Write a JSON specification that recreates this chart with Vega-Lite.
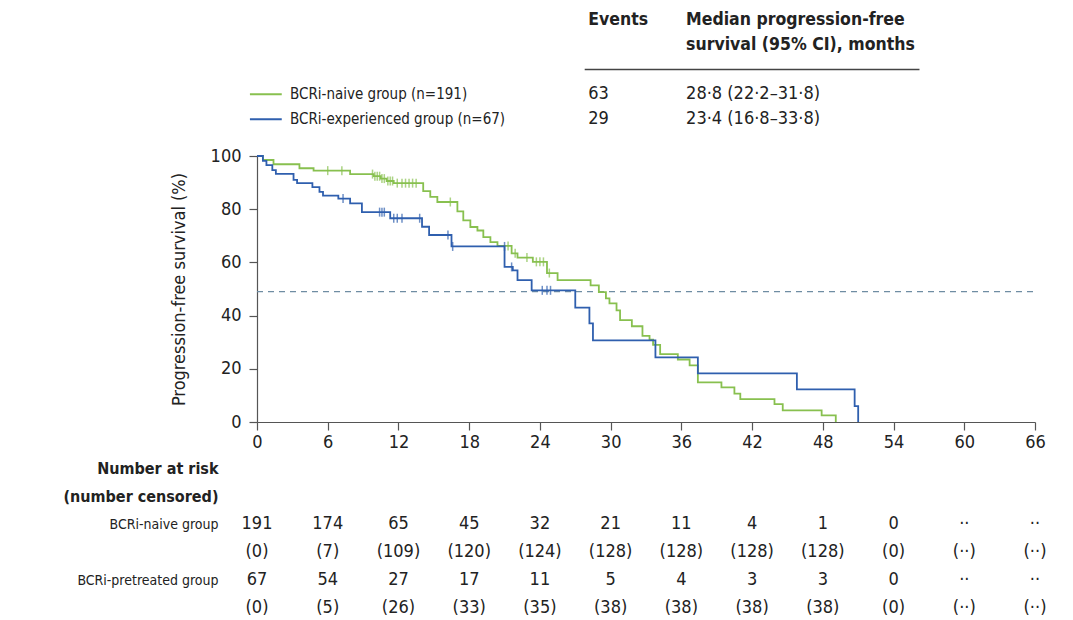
{
  "$schema": "https://vega.github.io/schema/vega-lite/v6.json",
  "padding": {"left": 62, "top": 11, "right": 5, "bottom": 5},
  "spacing": 9,
  "config": {
    "font": "DejaVu Sans Condensed, Open Sans, sans-serif",
    "view": {"stroke": null},
    "text": {"fontSize": 16, "color": "#222"},
    "axis": {"labelFontSize": 18, "labelColor": "#222", "titleFontSize": 18, "titleColor": "#222", "titleFontWeight": "normal", "grid": false, "domainColor": "#555", "tickColor": "#555", "domainWidth": 1.2, "tickWidth": 1.2}
  },
  "datasets": {
    "curves": [
      {"group": "naive", "month": 0, "pfs": 100}, {"group": "naive", "month": 0.5, "pfs": 98.5}, {"group": "naive", "month": 1.4, "pfs": 96.9}, {"group": "naive", "month": 3.6, "pfs": 95.4}, {"group": "naive", "month": 4.8, "pfs": 94.5}, {"group": "naive", "month": 7.9, "pfs": 93.2}, {"group": "naive", "month": 9.9, "pfs": 92.4}, {"group": "naive", "month": 10.5, "pfs": 91.5}, {"group": "naive", "month": 11.0, "pfs": 90.6}, {"group": "naive", "month": 11.6, "pfs": 89.8}, {"group": "naive", "month": 14.1, "pfs": 86.8}, {"group": "naive", "month": 14.7, "pfs": 84.6}, {"group": "naive", "month": 15.3, "pfs": 82.7}, {"group": "naive", "month": 17.0, "pfs": 79.2}, {"group": "naive", "month": 17.5, "pfs": 75.8}, {"group": "naive", "month": 18.1, "pfs": 73.3}, {"group": "naive", "month": 18.7, "pfs": 72.0}, {"group": "naive", "month": 19.2, "pfs": 69.5}, {"group": "naive", "month": 19.8, "pfs": 67.6}, {"group": "naive", "month": 20.4, "pfs": 66.2}, {"group": "naive", "month": 21.6, "pfs": 63.4}, {"group": "naive", "month": 22.1, "pfs": 61.8}, {"group": "naive", "month": 23.4, "pfs": 60.2}, {"group": "naive", "month": 24.6, "pfs": 56.0}, {"group": "naive", "month": 25.5, "pfs": 53.3}, {"group": "naive", "month": 28.3, "pfs": 51.4}, {"group": "naive", "month": 29.0, "pfs": 48.8}, {"group": "naive", "month": 29.6, "pfs": 46.5}, {"group": "naive", "month": 29.9, "pfs": 44.6}, {"group": "naive", "month": 30.5, "pfs": 42.0}, {"group": "naive", "month": 30.8, "pfs": 38.3}, {"group": "naive", "month": 31.8, "pfs": 36.0}, {"group": "naive", "month": 32.7, "pfs": 32.4}, {"group": "naive", "month": 33.3, "pfs": 31.0}, {"group": "naive", "month": 33.6, "pfs": 29.0}, {"group": "naive", "month": 34.2, "pfs": 25.5}, {"group": "naive", "month": 35.7, "pfs": 23.5}, {"group": "naive", "month": 36.7, "pfs": 21.3}, {"group": "naive", "month": 37.4, "pfs": 14.9}, {"group": "naive", "month": 39.4, "pfs": 13.0}, {"group": "naive", "month": 40.5, "pfs": 10.7}, {"group": "naive", "month": 41.0, "pfs": 8.6}, {"group": "naive", "month": 43.9, "pfs": 6.7}, {"group": "naive", "month": 44.6, "pfs": 4.4}, {"group": "naive", "month": 47.9, "pfs": 2.5}, {"group": "naive", "month": 49.1, "pfs": 0},
      {"group": "experienced", "month": 0, "pfs": 100}, {"group": "experienced", "month": 0.5, "pfs": 98.2}, {"group": "experienced", "month": 0.8, "pfs": 96.6}, {"group": "experienced", "month": 1.3, "pfs": 94.7}, {"group": "experienced", "month": 1.6, "pfs": 93.3}, {"group": "experienced", "month": 3.1, "pfs": 91.0}, {"group": "experienced", "month": 3.4, "pfs": 89.8}, {"group": "experienced", "month": 4.7, "pfs": 88.3}, {"group": "experienced", "month": 5.3, "pfs": 86.5}, {"group": "experienced", "month": 5.6, "pfs": 85.1}, {"group": "experienced", "month": 6.9, "pfs": 84.0}, {"group": "experienced", "month": 7.9, "pfs": 82.2}, {"group": "experienced", "month": 8.9, "pfs": 78.9}, {"group": "experienced", "month": 11.3, "pfs": 76.6}, {"group": "experienced", "month": 14.0, "pfs": 73.4}, {"group": "experienced", "month": 14.6, "pfs": 70.3}, {"group": "experienced", "month": 16.5, "pfs": 66.0}, {"group": "experienced", "month": 21.0, "pfs": 58.3}, {"group": "experienced", "month": 21.7, "pfs": 57.0}, {"group": "experienced", "month": 22.1, "pfs": 53.3}, {"group": "experienced", "month": 23.3, "pfs": 49.5}, {"group": "experienced", "month": 27.0, "pfs": 43.0}, {"group": "experienced", "month": 28.2, "pfs": 37.1}, {"group": "experienced", "month": 28.5, "pfs": 30.7}, {"group": "experienced", "month": 33.8, "pfs": 24.3}, {"group": "experienced", "month": 37.4, "pfs": 18.3}, {"group": "experienced", "month": 45.8, "pfs": 12.3}, {"group": "experienced", "month": 50.7, "pfs": 6.0}, {"group": "experienced", "month": 51.0, "pfs": 0}
    ],
    "censors": [
      {"group": "naive", "month": 6.0, "pfs": 94.5}, {"group": "naive", "month": 7.2, "pfs": 94.5}, {"group": "naive", "month": 9.8, "pfs": 93.2}, {"group": "naive", "month": 10.0, "pfs": 92.4}, {"group": "naive", "month": 10.2, "pfs": 92.4}, {"group": "naive", "month": 10.4, "pfs": 92.4}, {"group": "naive", "month": 10.6, "pfs": 91.5}, {"group": "naive", "month": 10.8, "pfs": 91.5}, {"group": "naive", "month": 11.1, "pfs": 90.6}, {"group": "naive", "month": 11.3, "pfs": 90.6}, {"group": "naive", "month": 11.5, "pfs": 90.6}, {"group": "naive", "month": 11.9, "pfs": 89.8}, {"group": "naive", "month": 12.3, "pfs": 89.8}, {"group": "naive", "month": 12.6, "pfs": 89.8}, {"group": "naive", "month": 12.9, "pfs": 89.8}, {"group": "naive", "month": 13.2, "pfs": 89.8}, {"group": "naive", "month": 13.5, "pfs": 89.8}, {"group": "naive", "month": 16.4, "pfs": 82.7}, {"group": "naive", "month": 21.3, "pfs": 66.2}, {"group": "naive", "month": 21.9, "pfs": 63.4}, {"group": "naive", "month": 22.9, "pfs": 61.8}, {"group": "naive", "month": 23.7, "pfs": 60.2}, {"group": "naive", "month": 24.0, "pfs": 60.2}, {"group": "naive", "month": 24.3, "pfs": 60.2}, {"group": "naive", "month": 24.8, "pfs": 56.0},
      {"group": "experienced", "month": 7.3, "pfs": 84.0}, {"group": "experienced", "month": 10.4, "pfs": 78.9}, {"group": "experienced", "month": 10.6, "pfs": 78.9}, {"group": "experienced", "month": 10.8, "pfs": 78.9}, {"group": "experienced", "month": 11.6, "pfs": 76.6}, {"group": "experienced", "month": 11.9, "pfs": 76.6}, {"group": "experienced", "month": 12.3, "pfs": 76.6}, {"group": "experienced", "month": 13.8, "pfs": 76.6}, {"group": "experienced", "month": 16.2, "pfs": 70.3}, {"group": "experienced", "month": 16.6, "pfs": 66.0}, {"group": "experienced", "month": 21.0, "pfs": 66.0}, {"group": "experienced", "month": 21.6, "pfs": 58.3}, {"group": "experienced", "month": 24.2, "pfs": 49.5}, {"group": "experienced", "month": 24.6, "pfs": 49.5}, {"group": "experienced", "month": 24.9, "pfs": 49.5}
    ],
    "median": [{"pfs": 49, "from": 0, "to": 66}],
    "headings": [
      {"key": "title1", "events": "Events", "median": "Median progression-free"},
      {"key": "title2", "events": "", "median": "survival (95% CI), months"}
    ],
    "groups": [
      {"key": "naive", "group": "naive", "label": "BCRi-naive group (n=191)", "events": "63", "median": "28·8 (22·2–31·8)"},
      {"key": "experienced", "group": "experienced", "label": "BCRi-experienced group (n=67)", "events": "29", "median": "23·4 (16·8–33·8)"}
    ],
    "risk": [
      {"row": "BCRi-naive group", "month": 0, "text": "191"}, {"row": "BCRi-naive group", "month": 6, "text": "174"}, {"row": "BCRi-naive group", "month": 12, "text": "65"}, {"row": "BCRi-naive group", "month": 18, "text": "45"}, {"row": "BCRi-naive group", "month": 24, "text": "32"}, {"row": "BCRi-naive group", "month": 30, "text": "21"}, {"row": "BCRi-naive group", "month": 36, "text": "11"}, {"row": "BCRi-naive group", "month": 42, "text": "4"}, {"row": "BCRi-naive group", "month": 48, "text": "1"}, {"row": "BCRi-naive group", "month": 54, "text": "0"}, {"row": "BCRi-naive group", "month": 60, "text": "··"}, {"row": "BCRi-naive group", "month": 66, "text": "··"},
      {"row": "BCRi-naive group censored", "month": 0, "text": "(0)"}, {"row": "BCRi-naive group censored", "month": 6, "text": "(7)"}, {"row": "BCRi-naive group censored", "month": 12, "text": "(109)"}, {"row": "BCRi-naive group censored", "month": 18, "text": "(120)"}, {"row": "BCRi-naive group censored", "month": 24, "text": "(124)"}, {"row": "BCRi-naive group censored", "month": 30, "text": "(128)"}, {"row": "BCRi-naive group censored", "month": 36, "text": "(128)"}, {"row": "BCRi-naive group censored", "month": 42, "text": "(128)"}, {"row": "BCRi-naive group censored", "month": 48, "text": "(128)"}, {"row": "BCRi-naive group censored", "month": 54, "text": "(0)"}, {"row": "BCRi-naive group censored", "month": 60, "text": "(··)"}, {"row": "BCRi-naive group censored", "month": 66, "text": "(··)"},
      {"row": "BCRi-pretreated group", "month": 0, "text": "67"}, {"row": "BCRi-pretreated group", "month": 6, "text": "54"}, {"row": "BCRi-pretreated group", "month": 12, "text": "27"}, {"row": "BCRi-pretreated group", "month": 18, "text": "17"}, {"row": "BCRi-pretreated group", "month": 24, "text": "11"}, {"row": "BCRi-pretreated group", "month": 30, "text": "5"}, {"row": "BCRi-pretreated group", "month": 36, "text": "4"}, {"row": "BCRi-pretreated group", "month": 42, "text": "3"}, {"row": "BCRi-pretreated group", "month": 48, "text": "3"}, {"row": "BCRi-pretreated group", "month": 54, "text": "0"}, {"row": "BCRi-pretreated group", "month": 60, "text": "··"}, {"row": "BCRi-pretreated group", "month": 66, "text": "··"},
      {"row": "BCRi-pretreated group censored", "month": 0, "text": "(0)"}, {"row": "BCRi-pretreated group censored", "month": 6, "text": "(5)"}, {"row": "BCRi-pretreated group censored", "month": 12, "text": "(26)"}, {"row": "BCRi-pretreated group censored", "month": 18, "text": "(33)"}, {"row": "BCRi-pretreated group censored", "month": 24, "text": "(35)"}, {"row": "BCRi-pretreated group censored", "month": 30, "text": "(38)"}, {"row": "BCRi-pretreated group censored", "month": 36, "text": "(38)"}, {"row": "BCRi-pretreated group censored", "month": 42, "text": "(38)"}, {"row": "BCRi-pretreated group censored", "month": 48, "text": "(38)"}, {"row": "BCRi-pretreated group censored", "month": 54, "text": "(0)"}, {"row": "BCRi-pretreated group censored", "month": 60, "text": "(··)"}, {"row": "BCRi-pretreated group censored", "month": 66, "text": "(··)"}
    ]
  },
  "vconcat": [
    {
      "width": 778,
      "height": 118,
      "encoding": {
        "y": {"field": "key", "type": "ordinal", "axis": null, "scale": {"type": "point", "padding": 0.38, "align": 0, "domain": ["title1", "title2", "rule", "naive", "experienced"]}}
      },
      "layer": [
        {
          "data": {"name": "headings"},
          "mark": {"type": "text", "align": "left", "fontWeight": "bold", "fontSize": 17.5},
          "encoding": {"x": {"datum": 28.1, "type": "quantitative", "scale": {"domain": [0, 66], "nice": false}, "axis": null}, "text": {"field": "events"}}
        },
        {
          "data": {"name": "headings"},
          "mark": {"type": "text", "align": "left", "fontWeight": "bold", "fontSize": 17.5},
          "encoding": {"x": {"datum": 36.4, "type": "quantitative"}, "text": {"field": "median"}}
        },
        {
          "data": {"values": [{"key": "rule"}]},
          "mark": {"type": "rule", "color": "#444", "strokeWidth": 1.5},
          "encoding": {"x": {"datum": 27.8, "type": "quantitative"}, "x2": {"datum": 56.2}}
        },
        {
          "data": {"name": "groups"},
          "mark": {"type": "rule", "strokeWidth": 2},
          "encoding": {
            "x": {"datum": -0.6, "type": "quantitative"}, "x2": {"datum": 2.1},
            "color": {"field": "group", "type": "nominal", "scale": {"domain": ["naive", "experienced"], "range": ["#88c04f", "#2f5fae"]}, "legend": null}
          }
        },
        {
          "data": {"name": "groups"},
          "mark": {"type": "text", "align": "left", "fontSize": 15},
          "encoding": {"x": {"datum": 2.8, "type": "quantitative"}, "text": {"field": "label"}}
        },
        {
          "data": {"name": "groups"},
          "mark": {"type": "text", "align": "left", "fontSize": 18},
          "encoding": {"x": {"datum": 28.1, "type": "quantitative"}, "text": {"field": "events"}}
        },
        {
          "data": {"name": "groups"},
          "mark": {"type": "text", "align": "left", "fontSize": 18},
          "encoding": {"x": {"datum": 36.4, "type": "quantitative"}, "text": {"field": "median"}}
        }
      ]
    },
    {
      "width": 778,
      "height": 266,
      "layer": [
        {
          "data": {"name": "median"},
          "mark": {"type": "rule", "color": "#6f8da3", "strokeDash": [6, 5], "strokeWidth": 1.3},
          "encoding": {
            "y": {"field": "pfs", "type": "quantitative"},
            "x": {"field": "from", "type": "quantitative"},
            "x2": {"field": "to"}
          }
        },
        {
          "data": {"name": "curves"},
          "mark": {"type": "line", "interpolate": "step-after", "strokeWidth": 1.8},
          "encoding": {
            "x": {"field": "month", "type": "quantitative", "scale": {"domain": [0, 66], "nice": false}, "axis": {"values": [0, 6, 12, 18, 24, 30, 36, 42, 48, 54, 60, 66], "title": null, "tickSize": 8, "labelPadding": 3, "labelFlush": false}},
            "y": {"field": "pfs", "type": "quantitative", "scale": {"domain": [0, 100], "nice": false}, "axis": {"values": [0, 20, 40, 60, 80, 100], "title": "Progression-free survival (%)", "tickSize": 8, "labelPadding": 8, "titlePadding": 22}},
            "color": {"field": "group", "type": "nominal", "scale": {"domain": ["naive", "experienced"], "range": ["#88c04f", "#2f5fae"]}, "legend": null},
            "detail": {"field": "group"}
          }
        },
        {
          "data": {"name": "censors"},
          "mark": {"type": "tick", "orient": "vertical", "size": 9, "thickness": 1.5},
          "encoding": {
            "x": {"field": "month", "type": "quantitative"},
            "y": {"field": "pfs", "type": "quantitative"},
            "color": {"field": "group", "type": "nominal", "legend": null}
          }
        }
      ]
    },
    {
      "width": 778,
      "height": 140,
      "data": {"name": "risk"},
      "mark": {"type": "text", "align": "center", "fontSize": 18},
      "encoding": {
        "x": {"field": "month", "type": "quantitative", "scale": {"domain": [0, 66], "nice": false}, "axis": null},
        "y": {
          "field": "row", "type": "ordinal",
          "scale": {"type": "point", "padding": 0, "domain": ["Number at risk", "(number censored)", "BCRi-naive group", "BCRi-naive group censored", "BCRi-pretreated group", "BCRi-pretreated group censored"]},
          "axis": {
            "title": null, "ticks": false, "domain": false, "labelPadding": 39,
            "labelExpr": "indexof(datum.value, 'censored)') >= 0 || indexof(datum.value, ' censored') < 0 ? datum.value : ''",
            "labelFontWeight": {"condition": {"test": "datum.value == 'Number at risk' || datum.value == '(number censored)'", "value": "bold"}, "value": "normal"},
            "labelFontSize": {"condition": {"test": "datum.value == 'Number at risk' || datum.value == '(number censored)'", "value": 16}, "value": 14}
          }
        },
        "text": {"field": "text"}
      }
    }
  ]
}
